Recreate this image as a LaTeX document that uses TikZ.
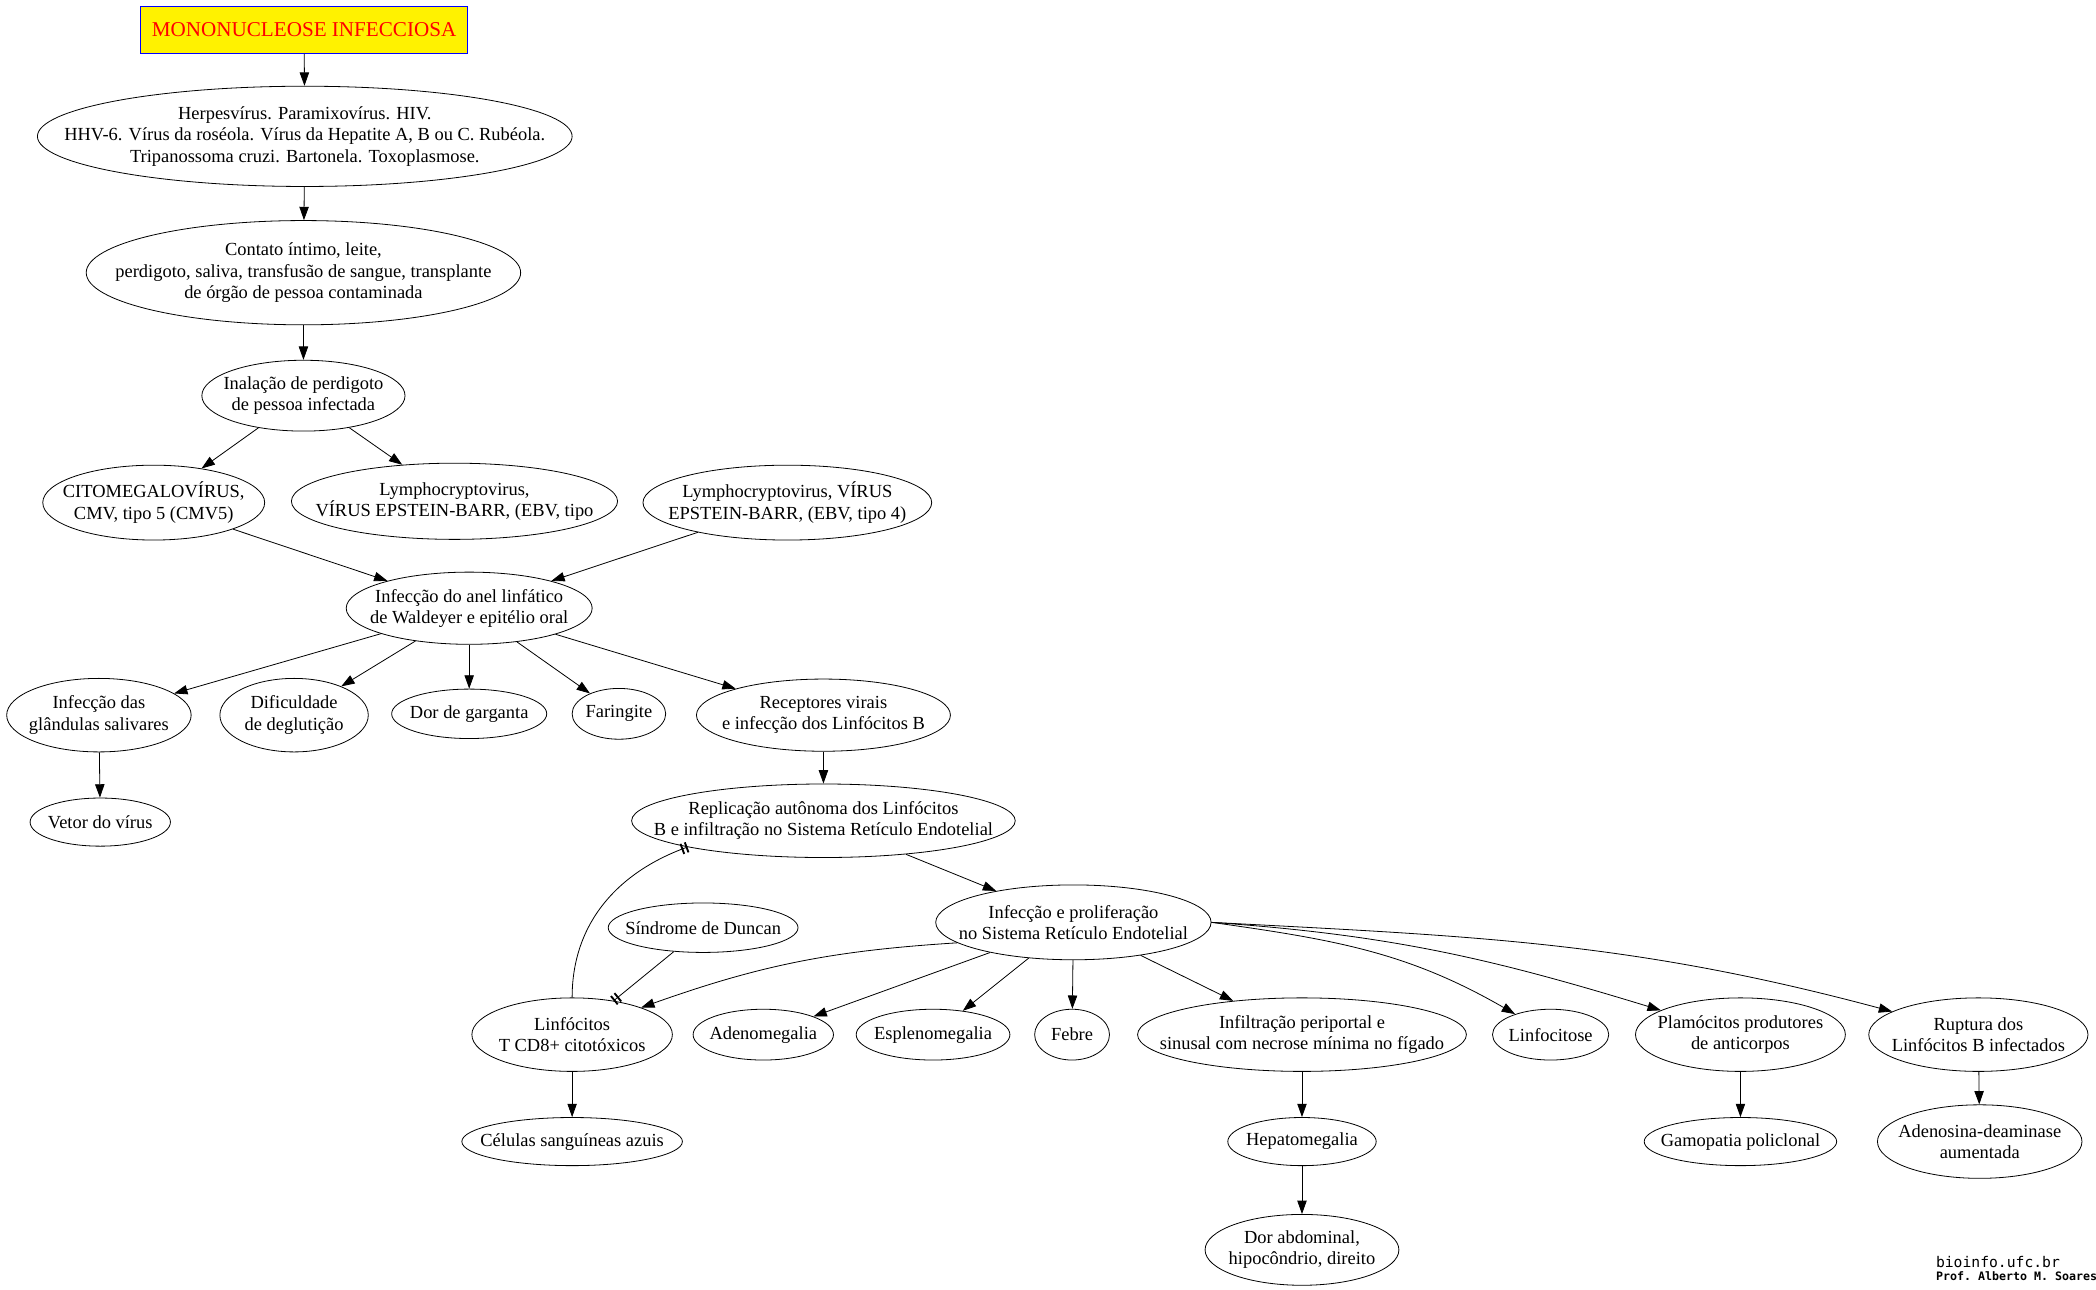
\documentclass[tikz,border=0pt]{standalone}
\usepackage{fontspec}
\setmainfont{Liberation Serif}
\setmonofont{DejaVu Sans Mono}
\usetikzlibrary{calc,arrows,arrows.meta,shapes}

\begin{document}
\begin{tikzpicture}[x=1pt,y=1pt,font=\fontsize{13.8}{16}\selectfont,line width=0.6pt,
    >={Triangle[length=10pt,width=7pt]}]
    \tikzstyle{ell}=[draw,ellipse,align=center,inner xsep=-90pt,inner ysep=-30pt]
    \tikzstyle{tee}=[-{Bar[width=8pt,line width=1.4pt,sep=2pt]Bar[width=8pt,line width=1.4pt]}]

    \useasboundingbox (0,0) rectangle (1568,-965);

    \node[draw=blue,fill=yellow,text=red,minimum width=245,minimum height=35,
          font=\fontsize{15.8}{18}\selectfont] (title) at (227.5,-22.5) {MONONUCLEOSE INFECCIOSA};
    \node[ell,minimum width=400,minimum height=75] (herpes) at (228,-102)
        {Herpesvírus. Paramixovírus. HIV.\\HHV-6. Vírus da roséola. Vírus da Hepatite A, B ou C. Rubéola.\\Tripanossoma cruzi. Bartonela. Toxoplasmose.};
    \node[ell,minimum width=325,minimum height=78] (contato) at (227,-204)
        {Contato íntimo, leite,\\perdigoto, saliva, transfusão de sangue, transplante\\de órgão de pessoa contaminada};
    \node[ell,minimum width=152,minimum height=53] (inalacao) at (227,-296) {Inalação de perdigoto\\de pessoa infectada};

    \node[ell,minimum width=166,minimum height=56] (cmv) at (115,-376) {CITOMEGALOVÍRUS,\\CMV, tipo 5 (CMV5)};
    \node[ell,minimum width=244,minimum height=57] (ebv) at (340,-375) {Lymphocryptovirus,\\VÍRUS EPSTEIN-BARR, (EBV, tipo};
    \node[ell,minimum width=216,minimum height=56] (ebvq) at (589,-376) {Lymphocryptovirus, VÍRUS\\EPSTEIN-BARR, (EBV, tipo 4)};
    \node[ell,minimum width=184,minimum height=54] (anel) at (351,-455) {Infecção do anel linfático\\de Waldeyer e epitélio oral};

    \node[ell,minimum width=138,minimum height=55] (glandulas) at (74,-535) {Infecção das\\glândulas salivares};
    \node[ell,minimum width=111,minimum height=55] (deglut) at (220,-535) {Dificuldade\\de deglutição};
    \node[ell,minimum width=116,minimum height=37] (garganta) at (351,-534) {Dor de garganta};
    \node[ell,minimum width=70,minimum height=38] (faringite) at (463,-534) {Faringite};
    \node[ell,minimum width=190,minimum height=54] (receptores) at (616,-535) {Receptores virais\\e infecção dos Linfócitos B};
    \node[ell,minimum width=105,minimum height=36] (vetor) at (75,-615) {Vetor do vírus};
    \node[ell,minimum width=287,minimum height=55] (replicacao) at (616,-614)
        {Replicação autônoma dos Linfócitos\\B e infiltração no Sistema Retículo Endotelial};

    \node[ell,minimum width=142,minimum height=37] (duncan) at (526,-694) {Síndrome de Duncan};
    \node[ell,minimum width=206,minimum height=56] (prolif) at (803,-690) {Infecção e proliferação\\no Sistema Retículo Endotelial};

    \node[ell,minimum width=150,minimum height=55] (linfT) at (428,-774) {Linfócitos\\T CD8+ citotóxicos};
    \node[ell,minimum width=105,minimum height=38] (adeno) at (571,-774) {Adenomegalia};
    \node[ell,minimum width=115,minimum height=38] (espleno) at (698,-774) {Esplenomegalia};
    \node[ell,minimum width=56,minimum height=38] (febre) at (802,-774) {Febre};
    \node[ell,minimum width=246,minimum height=55] (infiltracao) at (974,-774)
        {Infiltração periportal e\\sinusal com necrose mínima no fígado};
    \node[ell,minimum width=87,minimum height=38] (linfocitose) at (1160,-774) {Linfocitose};
    \node[ell,minimum width=157,minimum height=55] (plamocitos) at (1302,-774) {Plamócitos produtores\\de anticorpos};
    \node[ell,minimum width=164,minimum height=55] (ruptura) at (1480,-774) {Ruptura dos\\Linfócitos B infectados};

    \node[ell,minimum width=165,minimum height=36] (celulas) at (428,-854) {Células sanguíneas azuis};
    \node[ell,minimum width=111,minimum height=36] (hepato) at (974,-854) {Hepatomegalia};
    \node[ell,minimum width=144,minimum height=36] (gamopatia) at (1302,-854) {Gamopatia policlonal};
    \node[ell,minimum width=153,minimum height=55] (adenosina) at (1481,-854) {Adenosina-deaminase\\aumentada};
    \node[ell,minimum width=145,minimum height=53] (dor) at (974,-935) {Dor abdominal,\\hipocôndrio, direito};

    \node[anchor=west,inner sep=0pt,font=\ttfamily\fontsize{11}{12}\selectfont] (site) at (1448,-944) {bioinfo.ufc.br};
    \node[anchor=west,inner sep=0pt,font=\ttfamily\bfseries\fontsize{8.7}{10}\selectfont] (prof) at (1448,-955) {Prof. Alberto M. Soares};

    % ligacoes
    \draw[->] (title) -- (herpes);
    \draw[->] (herpes) -- (contato);
    \draw[->] (contato) -- (inalacao);
    \draw[->] (inalacao) -- (cmv);
    \draw[->] (inalacao) -- (ebv);
    \draw[->] (cmv) -- (anel);
    \draw[->] (ebvq) -- (anel);
    \foreach \n in {glandulas,deglut,garganta,faringite,receptores}
        \draw[->] (anel) -- (\n);
    \draw[->] (glandulas) -- (vetor);
    \draw[->] (receptores) -- (replicacao);
    \draw[->] (replicacao) -- (prolif);
    \draw[tee] (linfT.north) to[out=90,in=200] (replicacao.south west);
    \draw[tee] (duncan) -- (linfT);
    \draw[->] (prolif.190) to[bend right=8] (linfT);
    \foreach \n in {adeno,espleno,febre,infiltracao}
        \draw[->] (prolif) -- (\n);
    \draw[->] (prolif.east) to[out=-8,in=150] (linfocitose);
    \draw[->] (prolif.east) to[out=-4,in=163] (plamocitos);
    \draw[->] (prolif.east) to[out=-3,in=165] (ruptura);
    \draw[->] (linfT) -- (celulas);
    \draw[->] (infiltracao) -- (hepato);
    \draw[->] (hepato) -- (dor);
    \draw[->] (plamocitos) -- (gamopatia);
    \draw[->] (ruptura) -- (adenosina);
\end{tikzpicture}
\end{document}
